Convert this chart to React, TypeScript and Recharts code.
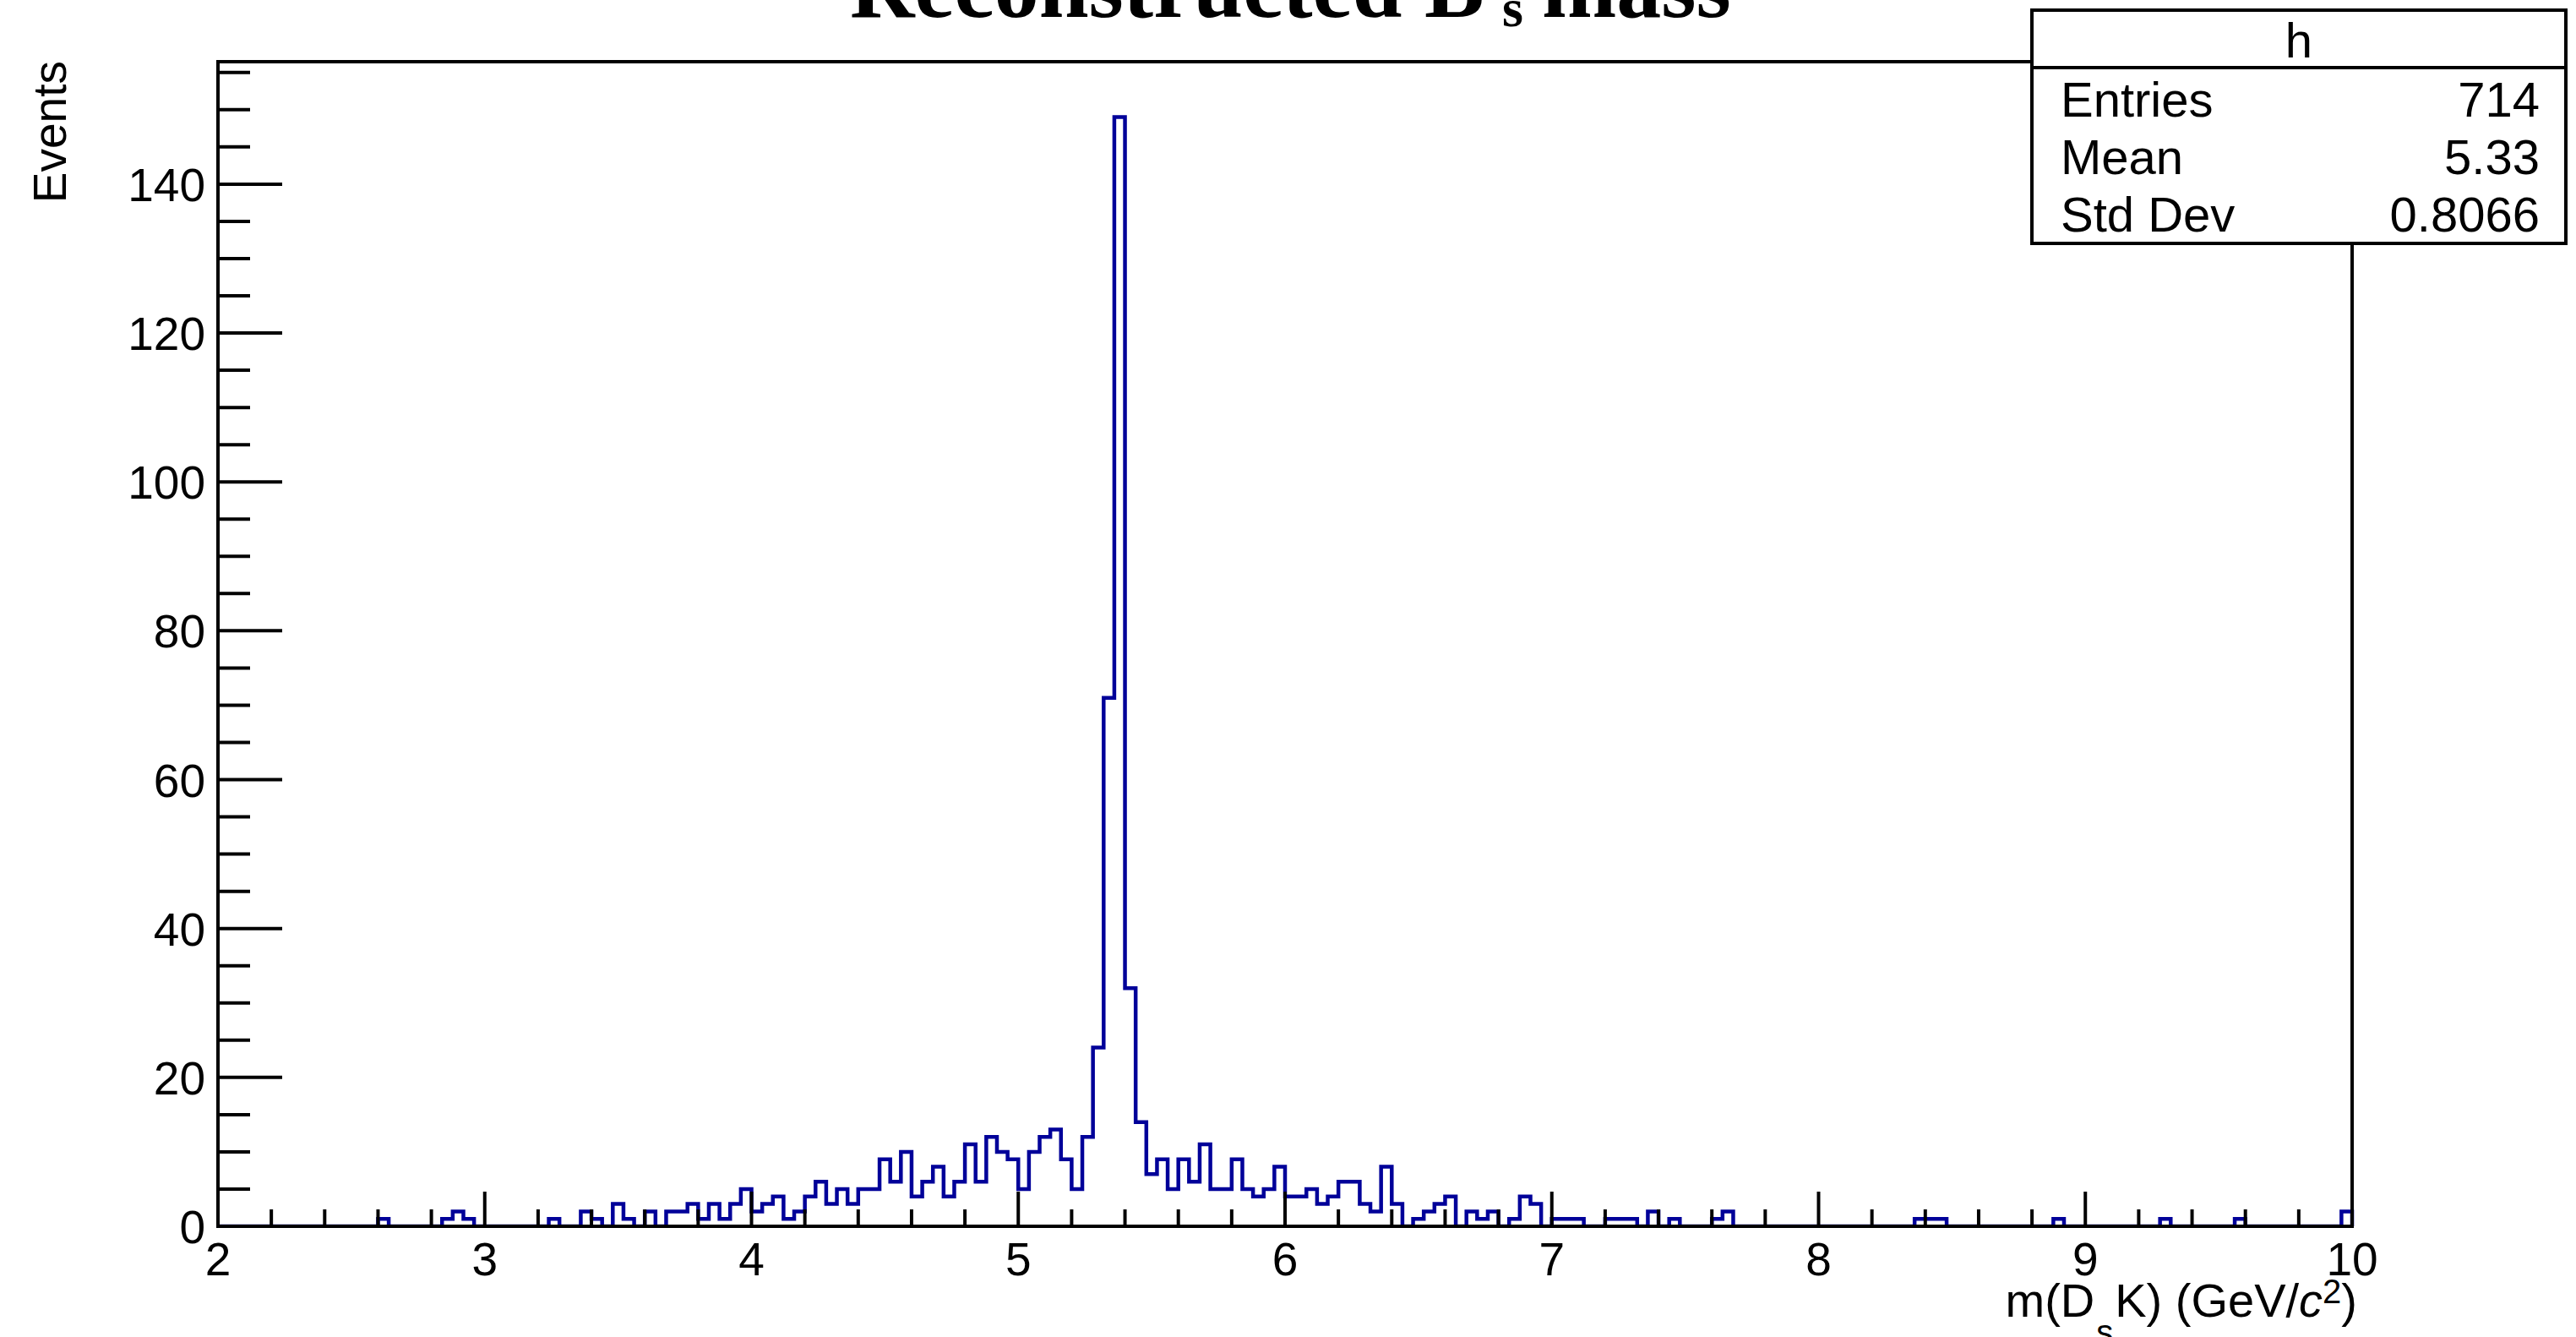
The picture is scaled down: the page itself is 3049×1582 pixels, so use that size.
import React from 'react';
import { LineChart, Line, XAxis, YAxis } from 'recharts';

// histogram: 200 bins of 0.04 GeV between 2 and 10
const xMin = 2;
const xMax = 10;
const binWidth = 0.04;
const yMax = 156.45;

const counts = [
  0, 0, 0, 0, 0, 0, 0, 0, 0, 0, 0, 0, 0, 0, 0, 1, 0, 0, 0, 0,
  0, 1, 2, 1, 0, 0, 0, 0, 0, 0, 0, 1, 0, 0, 2, 1, 0, 3, 1, 0,
  2, 0, 2, 2, 3, 1, 3, 1, 3, 5, 2, 3, 4, 1, 2, 4, 6, 3, 5, 3,
  5, 5, 9, 6, 10, 4, 6, 8, 4, 6, 11, 6, 12, 10, 9, 5, 10, 12, 13, 9,
  5, 12, 24, 71, 149, 32, 14, 7, 9, 5, 9, 6, 11, 5, 5, 9, 5, 4, 5, 8,
  4, 4, 5, 3, 4, 6, 6, 3, 2, 8, 3, 0, 1, 2, 3, 4, 0, 2, 1, 2,
  0, 1, 4, 3, 0, 1, 1, 1, 0, 0, 1, 1, 1, 0, 2, 0, 1, 0, 0, 0,
  1, 2, 0, 0, 0, 0, 0, 0, 0, 0, 0, 0, 0, 0, 0, 0, 0, 0, 0, 1,
  1, 1, 0, 0, 0, 0, 0, 0, 0, 0, 0, 0, 1, 0, 0, 0, 0, 0, 0, 0,
  0, 0, 1, 0, 0, 0, 0, 0, 0, 1, 0, 0, 0, 0, 0, 0, 0, 0, 0, 2,
];

const xMajorTicks = [2, 3, 4, 5, 6, 7, 8, 9, 10];
const yMajorTicks = [0, 20, 40, 60, 80, 100, 120, 140];

const statsRows = [
  { label: 'Entries', value: '714' },
  { label: 'Mean', value: '5.33' },
  { label: 'Std Dev', value: '0.8066' },
];

// bin low edges, plus closing point at the upper edge
const data = counts.map((c, i) => ({ x: +(xMin + i * binWidth).toFixed(2), count: c }));
data.push({ x: xMax, count: counts[counts.length - 1] });
data.push({ x: xMax, count: 0 });

const xTicks: number[] = [];
for (let k = 0; k <= 40; k++) xTicks.push(+(xMin + k * 0.2).toFixed(1));
const yTicks: number[] = [];
for (let v = 0; v <= 155; v += 5) yTicks.push(v);

const W = 3049;
const H = 1582;
const M = { top: 73, right: 265, bottom: 0, left: 0 };
const Y_AXIS_W = 258;
const X_AXIS_H = 131;
const plotLeft = M.left + Y_AXIS_W;
const plotTop = M.top;
const plotRight = W - M.right;
const plotBottom = H - M.bottom - X_AXIS_H;

const SANS = '"Liberation Sans", Arial, Helvetica, sans-serif';
const SERIF = '"Liberation Serif", "Times New Roman", serif';

const XTick = (props: any) => {
  const { x, y, payload } = props;
  const v = payload.value;
  const major = xMajorTicks.includes(v);
  return (
    <g>
      <line x1={x} x2={x} y1={y} y2={y - (major ? 41 : 20)} stroke="#000" strokeWidth={4} />
      {major && (
        <text x={x} y={y + 58} textAnchor="middle" fontFamily={SANS} fontSize={55} fill="#000">
          {v}
        </text>
      )}
    </g>
  );
};

const YTick = (props: any) => {
  const { x, y, payload } = props;
  const v = payload.value;
  const major = yMajorTicks.includes(v);
  return (
    <g>
      <line x1={x} x2={x + (major ? 76 : 38)} y1={y} y2={y} stroke="#000" strokeWidth={4} />
      {major && (
        <text x={x - 15} y={y + 20} textAnchor="end" fontFamily={SANS} fontSize={55} fill="#000">
          {v}
        </text>
      )}
    </g>
  );
};

export default function App() {
  return (
    <div style={{ position: 'relative', width: W, height: H, background: '#fff' }}>
      <style>{'body{margin:0}'}</style>
      <LineChart width={W} height={H} data={data} margin={M}>
        <XAxis
          dataKey="x"
          type="number"
          domain={[xMin, xMax]}
          ticks={xTicks}
          interval={0}
          height={X_AXIS_H}
          axisLine={false}
          tickLine={false}
          tickSize={0}
          tickMargin={0}
          tick={<XTick />}
        />
        <YAxis
          type="number"
          domain={[0, yMax]}
          ticks={yTicks}
          interval={0}
          width={Y_AXIS_W}
          axisLine={false}
          tickLine={false}
          tickSize={0}
          tickMargin={0}
          allowDataOverflow
          tick={<YTick />}
        />
        <Line
          type="stepAfter"
          dataKey="count"
          stroke="#000099"
          strokeWidth={4.5}
          dot={false}
          activeDot={false}
          isAnimationActive={false}
        />
      </LineChart>

      <svg
        width={W}
        height={H}
        style={{ position: 'absolute', left: 0, top: 0, pointerEvents: 'none' }}
      >
        {/* frame drawn over the histogram, like ROOT's axes */}
        <rect
          x={plotLeft}
          y={plotTop}
          width={plotRight - plotLeft}
          height={plotBottom - plotTop}
          fill="none"
          stroke="#000"
          strokeWidth={4}
        />

        {/* title, mostly cut off at the top like the original */}
        <g fontFamily={SERIF} fontWeight="bold" fill="#000">
          <text x={1006} y={20} fontSize={106}>Reconstructed B</text>
          <text x={1754} y={-28} fontSize={64}>0</text>
          <text x={1778} y={31} fontSize={64}>s</text>
          <text x={1825} y={20} fontSize={106}>mass</text>
        </g>

        <text
          transform="translate(78,72) rotate(-90)"
          textAnchor="end"
          fontFamily={SANS}
          fontSize={55}
          fill="#000"
        >
          Events
        </text>

        <text x={2790} y={1558} textAnchor="end" fontFamily={SANS} fontSize={56} fill="#000">
          m(D
          <tspan dx={2} dy={32} fontSize={40}>s</tspan>
          <tspan dx={2} dy={-32}>K) (GeV/</tspan>
          <tspan fontStyle="italic">c</tspan>
          <tspan dy={-16} fontSize={40}>2</tspan>
          <tspan dy={16}>)</tspan>
        </text>

        {/* stats box */}
        <rect x={2405} y={12} width={632} height={276} fill="#fff" stroke="#000" strokeWidth={4} />
        <line x1={2405} x2={3037} y1={80} y2={80} stroke="#000" strokeWidth={4} />
        <g fontFamily={SANS} fontSize={58} fill="#000">
          <text x={2721} y={68} textAnchor="middle">h</text>
          {statsRows.map((r, i) => (
            <React.Fragment key={r.label}>
              <text x={2439} y={138 + i * 68}>{r.label}</text>
              <text x={3006} y={138 + i * 68} textAnchor="end">{r.value}</text>
            </React.Fragment>
          ))}
        </g>
      </svg>
    </div>
  );
}
